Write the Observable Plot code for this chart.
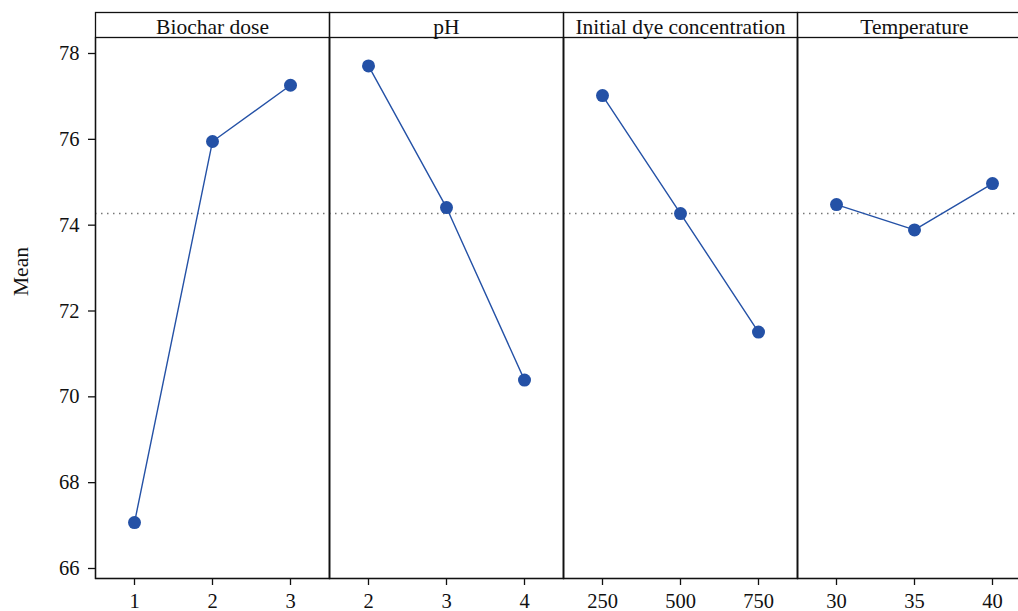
<!DOCTYPE html>
<html>
<head>
<meta charset="utf-8">
<script src="https://cdn.jsdelivr.net/npm/d3@7"></script>
<script src="https://cdn.jsdelivr.net/npm/@observablehq/plot@0.6"></script>
<style>
  html, body { margin: 0; padding: 0; background: #fff; overflow: hidden; }
  #chart svg { max-width: none !important; display: block; }
</style>
</head>
<body>
<div id="chart"></div>
<script>
const factors = ["Biochar dose", "pH", "Initial dye concentration", "Temperature"];
const levelLabels = [
  ["1", "2", "3"],
  ["2", "3", "4"],
  ["250", "500", "750"],
  ["30", "35", "40"]
];
const means = [
  [67.07, 75.95, 77.26],
  [77.71, 74.41, 70.39],
  [77.02, 74.27, 71.51],
  [74.48, 73.89, 74.97]
];
const grandMean = 74.27;
const yTicks = [66, 68, 70, 72, 74, 76, 78];
const levelIndex = [0, 1, 2];
const yLabel = "Mean";

const rows = factors.flatMap((f, i) =>
  levelLabels[i].map((lab, j) => ({factor: f, idx: j, label: lab, mean: means[i][j]}))
);

const blue = "#2451a6";

const chart = Plot.plot({
  width: 1031,
  height: 611,
  marginLeft: 95,
  marginRight: 0,
  marginTop: 37,
  marginBottom: 33,
  style: {fontFamily: "'Liberation Serif', 'Times New Roman', serif", fontSize: "20px", color: "#111", background: "#fff"},
  fx: {domain: factors, padding: 0, axis: null},
  x: {type: "point", domain: levelIndex, padding: 0.5},
  y: {domain: [66, 78], insetTop: 16, insetBottom: 10},
  marks: [
    Plot.ruleY([grandMean], {stroke: "#777", strokeWidth: 1.5, strokeDasharray: "1.5 4.5"}),
    Plot.line(rows, {x: "idx", y: "mean", fx: "factor", stroke: blue, strokeWidth: 1.4}),
    Plot.dot(rows, {x: "idx", y: "mean", fx: "factor", fill: blue, r: 6.5, stroke: "none"}),
    Plot.frame({stroke: "#111", strokeWidth: 1.3}),
    Plot.frame({stroke: "#111", strokeWidth: 1.3, insetTop: -25}),
    Plot.axisY({ticks: yTicks, tickSize: 7, tickPadding: 9, label: null, strokeWidth: 1.3, fontSize: 20.5}),
    Plot.axisX({ticks: levelIndex, tickSize: 7, tickFormat: () => "", label: null, strokeWidth: 1.3}),
    Plot.text(rows, {x: "idx", fx: "factor", text: "label", frameAnchor: "bottom", lineAnchor: "top", dy: 14.5, fontSize: 20.5}),
    Plot.text(factors, {fx: d => d, text: d => d, frameAnchor: "top", lineAnchor: "middle", dy: -10, fontSize: 21.5}),
    Plot.text([yLabel], {fx: () => factors[0], text: d => d, frameAnchor: "left", lineAnchor: "middle", rotate: -90, dx: -74, dy: -12, fontSize: 21.5})
  ]
});
chart.style.maxWidth = "none";
document.getElementById("chart").appendChild(chart);
</script>
</body>
</html>
